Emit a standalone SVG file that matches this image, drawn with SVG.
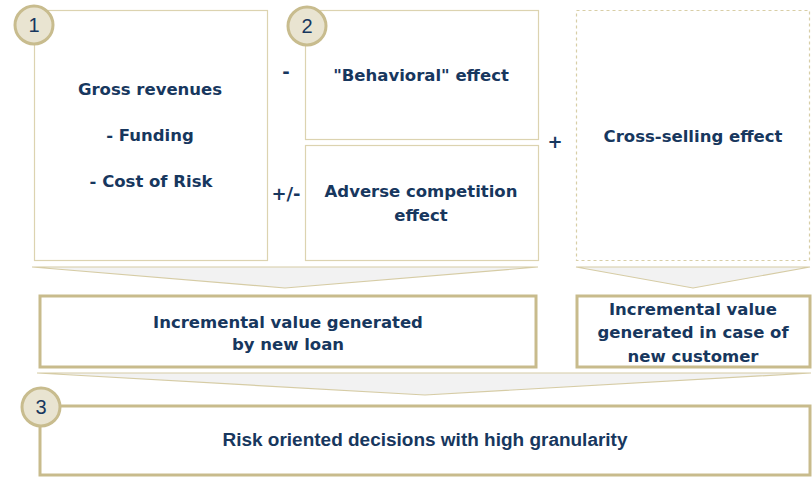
<svg xmlns="http://www.w3.org/2000/svg" width="812" height="477" viewBox="0 0 812 477">
<style>
.box{fill:#fff;stroke:#dcd3b0;stroke-width:1.2}
.dash{fill:#fff;stroke:#d8cea6;stroke-width:1.2;stroke-dasharray:3 3}
.thick{fill:#fff;stroke:#c8bb8c;stroke-width:3}
.chev{fill:#f2f2f2;stroke:#d6cca5;stroke-width:1.2}
.num{fill:#e9e4d1;stroke:#c8bc8e;stroke-width:3}
.t{font-family:"DejaVu Sans",sans-serif;font-weight:bold;font-size:16.5px;fill:#17375e;text-anchor:middle}
.n{font-family:"Liberation Sans",Arial,sans-serif;font-size:20px;fill:#17375e;text-anchor:middle}
.op{font-family:"DejaVu Sans",sans-serif;font-weight:bold;font-size:18px;fill:#17375e;text-anchor:middle}
</style>
<g id="connectors">
<polygon class="chev" points="32,267 538,267 285,288"/>
<polygon class="chev" points="576,267 810,267 693,288"/>
<polygon class="chev" points="37,373 811,373 425,395"/>
</g>
<g id="node1">
<rect class="box" x="34.5" y="10.5" width="233" height="250"/>
<text class="t" x="150" y="95">Gross revenues</text>
<text class="t" x="150" y="141">- Funding</text>
<text class="t" x="151" y="187">- Cost of Risk</text>
<circle class="num" cx="34" cy="25" r="19"/>
<text class="n" x="34" y="32">1</text>
</g>
<g id="op-minus"><text class="op" x="286" y="78">-</text></g>
<g id="op-pm"><text class="op" x="286" y="200">+/-</text></g>
<g id="op-plus"><text class="op" x="555" y="148">+</text></g>
<g id="node2a">
<rect class="box" x="305.5" y="10.5" width="233" height="129"/>
<text class="t" x="421" y="81">"Behavioral" effect</text>
<circle class="num" cx="307" cy="26" r="19"/>
<text class="n" x="307" y="33">2</text>
</g>
<g id="node2b">
<rect class="box" x="305.5" y="145.5" width="233" height="115"/>
<text class="t" x="421" y="197">Adverse competition</text>
<text class="t" x="421" y="221">effect</text>
</g>
<g id="node-cross">
<rect class="dash" x="576.5" y="10.5" width="233" height="250"/>
<text class="t" x="693" y="142">Cross-selling effect</text>
</g>
<g id="node-loan">
<rect class="thick" x="40" y="296" width="496" height="71"/>
<text class="t" x="288" y="328">Incremental value generated</text>
<text class="t" x="288" y="350">by new loan</text>
</g>
<g id="node-customer">
<rect class="thick" x="577" y="296" width="233" height="71"/>
<text class="t" x="693" y="315">Incremental value</text>
<text class="t" x="693" y="338">generated in case of</text>
<text class="t" x="693" y="362">new customer</text>
</g>
<g id="node3">
<rect class="thick" x="40" y="406" width="770" height="69"/>
<text x="425" y="446" textLength="405" lengthAdjust="spacingAndGlyphs" style="font-family:'Liberation Sans',Arial,sans-serif;font-weight:bold;font-size:18px;fill:#17375e;text-anchor:middle">Risk oriented decisions with high granularity</text>
<circle class="num" cx="41" cy="407" r="19"/>
<text class="n" x="41" y="414">3</text>
</g>
</svg>
